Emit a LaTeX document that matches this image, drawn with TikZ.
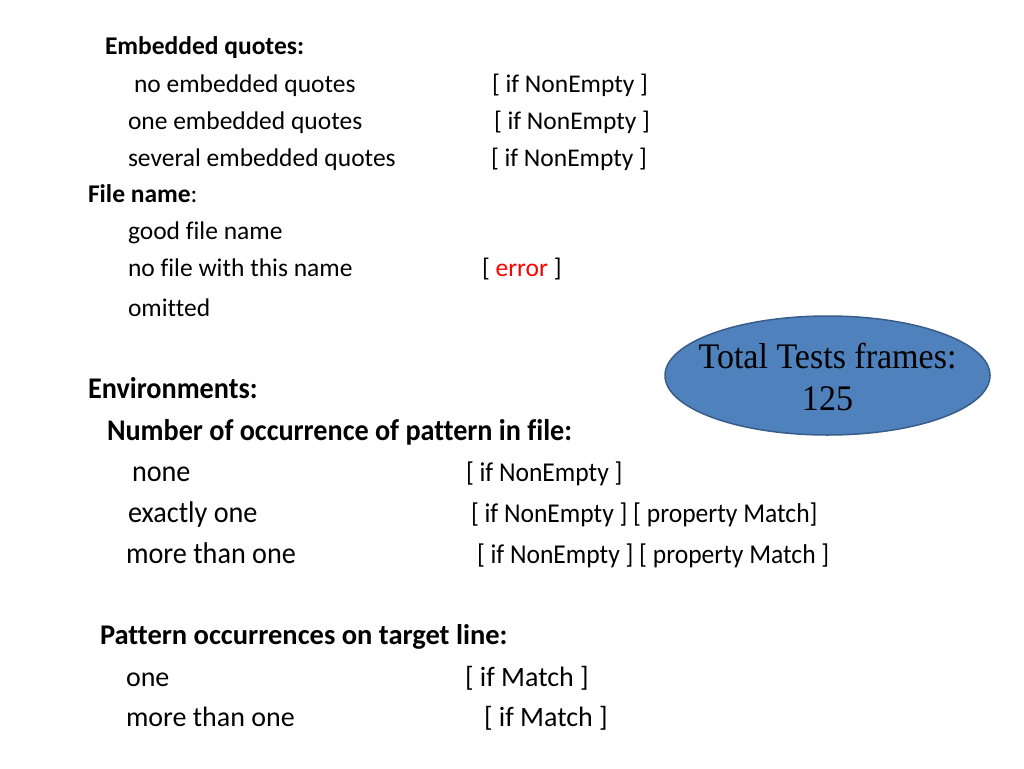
\documentclass[tikz,border=0pt]{standalone}
\usepackage{fontspec}
\setmainfont[Ligatures={NoCommon}]{Carlito}
\newfontfamily\condfont[FakeStretch=0.94,Ligatures={NoCommon}]{Carlito}
\newfontfamily\timesfont[FakeStretch=0.945]{Liberation Serif}
\usetikzlibrary{shapes.geometric}
\definecolor{ellfill}{HTML}{4F81BD}
\definecolor{elldraw}{HTML}{385D8A}
\definecolor{errred}{HTML}{FF0000}
\tikzset{
  txt/.style={anchor=base west, inner sep=0pt, outer sep=0pt, font=\fontsize{25.5}{30}\selectfont},
  hdr/.style={txt, font=\fontsize{25.5}{30}\selectfont\bfseries},
  ctxt/.style={anchor=base west, inner sep=0pt, outer sep=0pt, font=\condfont\fontsize{30}{34}\selectfont},
  cbr/.style={ctxt, font=\condfont\fontsize{27.2}{32}\selectfont},
  chdr/.style={ctxt, font=\condfont\fontsize{30}{34}\selectfont\bfseries},
  btxt/.style={anchor=base west, inner sep=0pt, outer sep=0pt, font=\fontsize{28}{32}\selectfont},
  bhdr/.style={btxt, font=\fontsize{28.5}{32}\selectfont\bfseries},
  ell/.style={ellipse, fill=ellfill, draw=elldraw, line width=1.5pt, minimum width=325pt, minimum height=119pt, inner sep=0pt},
  etxt/.style={anchor=base, inner sep=0pt, font=\timesfont\fontsize{36}{40}\selectfont}
}
\begin{document}
\begin{tikzpicture}[x=1pt,y=-1pt]
\useasboundingbox (0,0) rectangle (1024,768);
% Embedded quotes
\node[hdr] (eq) at (105,55) {Embedded quotes:};
\node[txt] (eq1) at (134,92) {no embedded quotes};
\node[txt] (eq1r) at (492,92) {[ if NonEmpty ]};
\node[txt] (eq2) at (128,129) {one embedded quotes};
\node[txt] (eq2r) at (494,129) {[ if NonEmpty ]};
\node[txt] (eq3) at (128,166) {several embedded quotes};
\node[txt] (eq3r) at (491,166) {[ if NonEmpty ]};
% File name
\node[txt] (fn) at (88,202) {\textbf{File name}:};
\node[txt] (fn1) at (128,239) {good file name};
\node[txt] (fn2) at (128,276) {no file with this name};
\node[txt] (fn2r) at (482,276) {[ \textcolor{errred}{error} ]};
\node[txt] (fn3) at (128,316) {omitted};
% Ellipse
\node[ell] (tot) at (827.5,375.5) {};
\node[etxt] (tot1) at (827.5,368) {Total Tests frames:};
\node[etxt] (tot2) at (827.5,410) {125};
% Environments
\node[chdr] (env) at (88,398) {Environments:};
\node[chdr] (num) at (107,440) {Number of occurrence of pattern in file:};
\node[ctxt] (n1) at (132,481) {none};
\node[cbr] (n1r) at (466,481) {[ if NonEmpty ]};
\node[ctxt] (n2) at (128,522) {exactly one};
\node[cbr] (n2r) at (471,522) {[ if NonEmpty ] [ property Match]};
\node[ctxt] (n3) at (126,563) {more than one};
\node[cbr] (n3r) at (477,563) {[ if NonEmpty ] [ property Match ]};
% Pattern occurrences
\node[bhdr] (po) at (100,644) {Pattern occurrences on target line:};
\node[btxt] (po1) at (126,686) {one};
\node[btxt] (po1r) at (465,686) {[ if Match ]};
\node[btxt] (po2) at (126,726) {more than one};
\node[btxt] (po2r) at (484,726) {[ if Match ]};
\end{tikzpicture}
\end{document}
